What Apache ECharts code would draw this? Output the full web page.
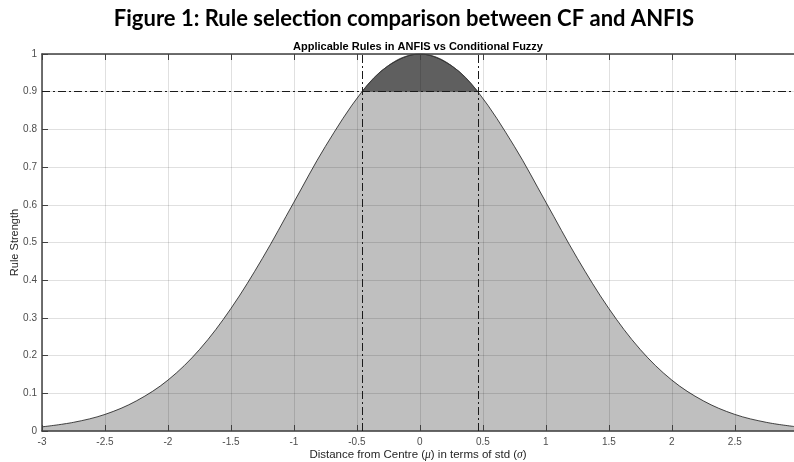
<!DOCTYPE html>
<html>
<head>
<meta charset="utf-8">
<script src="https://cdn.jsdelivr.net/npm/echarts@6/dist/echarts.min.js"></script>
<style>html,body{margin:0;padding:0;background:#fff}#c{width:794px;height:462px}</style>
</head>
<body>
<div id="c"></div>
<script>
// Rule strength curve
const curveX = [-3, -2.75, -2.5, -2.25, -2, -1.75, -1.5, -1.25, -1, -0.75, -0.46, -0.25, 0, 0.25, 0.46, 0.75, 1, 1.25, 1.5, 1.75, 2, 2.25, 2.5, 2.75, 2.97];
const curveY = [0.011, 0.023, 0.044, 0.080, 0.135, 0.216, 0.325, 0.458, 0.607, 0.755, 0.90, 0.969, 1.0, 0.969, 0.90, 0.755, 0.607, 0.458, 0.325, 0.216, 0.135, 0.080, 0.044, 0.023, 0.012];
// Region above the 0.9 threshold (ANFIS applicable)
const capX = [-0.46, -0.35, -0.23, -0.12, 0, 0.12, 0.23, 0.35, 0.46];
const capY = [0.90, 0.941, 0.974, 0.993, 1.0, 0.993, 0.974, 0.941, 0.90];
const threshold = 0.9;
const cutLeft = -0.46, cutRight = 0.46;

const chart = echarts.init(document.getElementById('c'), null, {renderer: 'canvas'});
const lab = {color: '#4d4d4d', fontFamily: 'Liberation Sans, Arial, sans-serif', fontSize: 10};
const dash = [8, 3, 2, 3];
chart.setOption({
  animation: false,
  title: [
    {text: 'Figure 1: Rule selection comparison between CF and ANFIS', left: 404, textAlign: 'center', top: 8, padding: 0,
     textStyle: {fontFamily: 'Lato, sans-serif', fontWeight: 'bold', fontSize: 22, color: '#000'}},
    {text: 'Applicable Rules in ANFIS vs Conditional Fuzzy', left: 418, textAlign: 'center', top: 41, padding: 0,
     textStyle: {fontFamily: 'Liberation Sans, Arial, sans-serif', fontWeight: 'bold', fontSize: 11, color: '#000'}}
  ],
  grid: {left: 42, right: 0, top: 54, bottom: 31, containLabel: false, outerBoundsMode: 'none'},
  xAxis: [
    {type: 'value', min: -3, max: 2.97, interval: 0.5, z: 3,
     name: '{n|Distance from Centre (}{i|μ}{n|) in terms of std (}{i|σ}{n|)}',
     nameLocation: 'middle', nameGap: 18, nameMoveOverlap: false,
     nameTextStyle: {rich: {
       n: {fontFamily: 'Liberation Sans, Arial, sans-serif', fontSize: 11.5, color: '#262626'},
       i: {fontFamily: 'Liberation Serif, serif', fontStyle: 'italic', fontSize: 11.5, color: '#262626'}}},
     axisLine: {show: true, onZero: false, lineStyle: {color: '#404040', width: 1.5}},
     axisTick: {show: true, inside: true, length: 6, lineStyle: {color: '#404040'}},
     axisLabel: Object.assign({margin: 6, showMaxLabel: false}, lab),
     splitLine: {show: true, lineStyle: {color: 'rgba(0,0,0,0.12)', width: 1}}},
    {type: 'value', min: -3, max: 2.97, interval: 0.5, position: 'top', z: 3,
     axisLine: {show: true, onZero: false, lineStyle: {color: '#404040', width: 1.5}},
     axisTick: {show: true, inside: true, length: 6, lineStyle: {color: '#404040'}},
     axisLabel: {show: false}, splitLine: {show: false}}
  ],
  yAxis: [
    {type: 'value', min: 0, max: 1, interval: 0.1, z: 3,
     name: 'Rule Strength', nameLocation: 'middle', nameGap: 22, nameMoveOverlap: false,
     nameTextStyle: {fontFamily: 'Liberation Sans, Arial, sans-serif', fontSize: 11, color: '#262626'},
     axisLine: {show: true, onZero: false, lineStyle: {color: '#404040', width: 1.5}},
     axisTick: {show: true, inside: true, length: 6, lineStyle: {color: '#404040'}},
     axisLabel: Object.assign({margin: 5}, lab),
     splitLine: {show: true, lineStyle: {color: 'rgba(0,0,0,0.12)', width: 1}}}
  ],
  series: [
    {type: 'line', data: curveX.map((x, i) => [x, curveY[i]]), smooth: 0.35, showSymbol: false, symbol: 'none',
     lineStyle: {color: '#1a1a1a', width: 0.8}, areaStyle: {color: '#bfbfbf', opacity: 1}, z: 2,
     markLine: {silent: true, symbol: 'none', label: {show: false},
       lineStyle: {color: '#1a1a1a', width: 1, type: dash},
       data: [{xAxis: cutLeft}, {xAxis: cutRight}, {yAxis: threshold}]}},
    {type: 'line', data: capX.map((x, i) => [x, capY[i]]), smooth: 0.35, showSymbol: false, symbol: 'none',
     lineStyle: {color: '#404040', width: 0.8}, areaStyle: {color: '#5f5f5f', opacity: 1, origin: threshold}, z: 2}
  ]
});
</script>
</body>
</html>
